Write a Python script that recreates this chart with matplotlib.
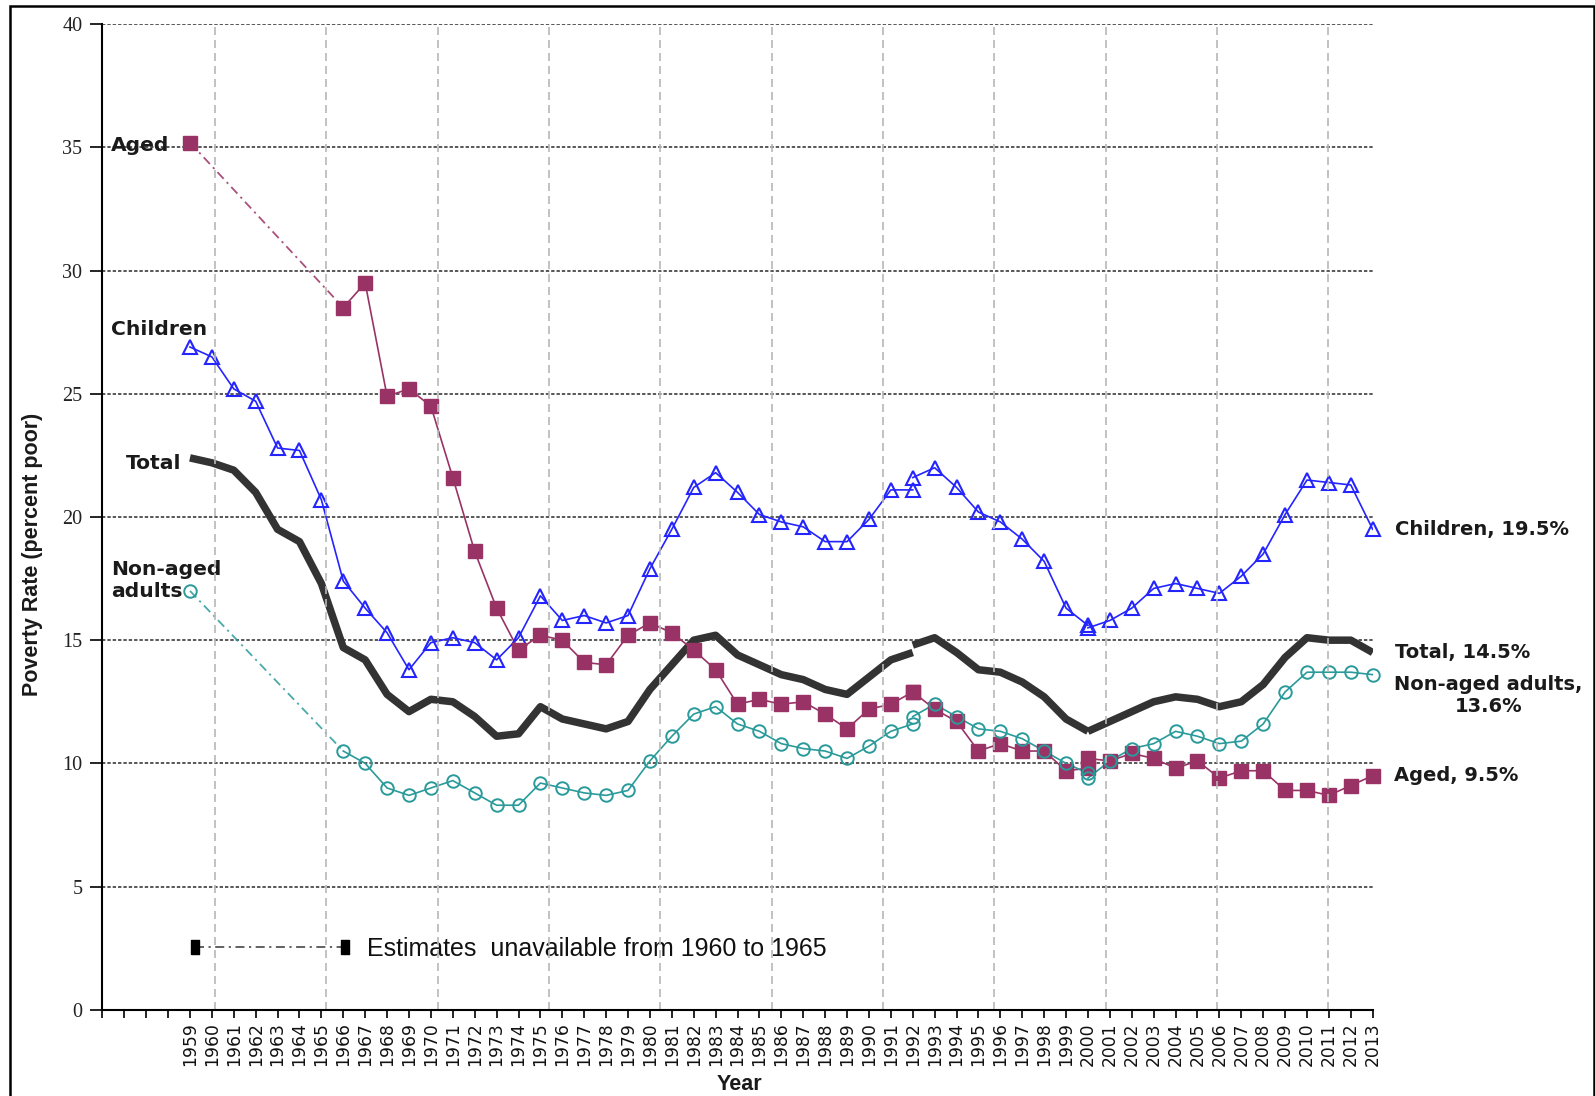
import numpy as np
import matplotlib
matplotlib.use("Agg")
import matplotlib.pyplot as plt
from matplotlib.patches import Rectangle
from matplotlib.lines import Line2D

# years: 1992 and 2000 appear twice (two estimates), series break there
years_full = list(range(1959, 1993)) + [1992] + list(range(1993, 2001)) + [2000] + list(range(2001, 2014))
years_gap = [1959] + list(range(1966, 1993)) + [1992] + list(range(1993, 2001)) + [2000] + list(range(2001, 2014))

children = [26.9, 26.5, 25.2, 24.7, 22.8, 22.7, 20.7, 17.4, 16.3, 15.3, 13.8, 14.9, 15.1, 14.9,
            14.2, 15.1, 16.8, 15.8, 16.0, 15.7, 16.0, 17.9, 19.5, 21.2, 21.8, 21.0, 20.1, 19.8,
            19.6, 19.0, 19.0, 19.9, 21.1, 21.1, 21.6, 22.0, 21.2, 20.2, 19.8, 19.1, 18.2, 16.3,
            15.6, 15.5, 15.8, 16.3, 17.1, 17.3, 17.1, 16.9, 17.6, 18.5, 20.1, 21.5, 21.4, 21.3, 19.5]
total = [22.4, 22.2, 21.9, 21.0, 19.5, 19.0, 17.3, 14.7, 14.2, 12.8, 12.1, 12.6, 12.5, 11.9,
         11.1, 11.2, 12.3, 11.8, 11.6, 11.4, 11.7, 13.0, 14.0, 15.0, 15.2, 14.4, 14.0, 13.6,
         13.4, 13.0, 12.8, 13.5, 14.2, 14.5, 14.8, 15.1, 14.5, 13.8, 13.7, 13.3, 12.7, 11.8,
         11.3, 11.3, 11.7, 12.1, 12.5, 12.7, 12.6, 12.3, 12.5, 13.2, 14.3, 15.1, 15.0, 15.0, 14.5]
aged = [35.2, 28.5, 29.5, 24.9, 25.2, 24.5, 21.6, 18.6, 16.3, 14.6, 15.2, 15.0, 14.1, 14.0,
        15.2, 15.7, 15.3, 14.6, 13.8, 12.4, 12.6, 12.4, 12.5, 12.0, 11.4, 12.2, 12.4, 12.9,
        12.9, 12.2, 11.7, 10.5, 10.8, 10.5, 10.5, 9.7, 9.8, 10.2, 10.1, 10.4, 10.2, 9.8,
        10.1, 9.4, 9.7, 9.7, 8.9, 8.9, 8.7, 9.1, 9.5]
nonaged = [17.0, 10.5, 10.0, 9.0, 8.7, 9.0, 9.3, 8.8, 8.3, 8.3, 9.2, 9.0, 8.8, 8.7,
           8.9, 10.1, 11.1, 12.0, 12.3, 11.6, 11.3, 10.8, 10.6, 10.5, 10.2, 10.7, 11.3, 11.6,
           11.9, 12.4, 11.9, 11.4, 11.3, 11.0, 10.5, 10.0, 9.6, 9.4, 10.1, 10.6, 10.8, 11.3,
           11.1, 10.8, 10.9, 11.6, 12.9, 13.7, 13.7, 13.7, 13.6]

BLUE = "#2424ff"
MAROON = "#993366"
TEAL = "#2a9a9a"
DARK = "#333333"
TXT = "#1a1a1a"
DASHDOT = (0, (5, 2.5, 1.2, 2.5))


def segments(xs, ys):
    # split where a year repeats (break in series)
    start = 0
    for i in range(1, len(xs)):
        if xs[i] <= xs[i - 1]:
            yield xs[start:i], ys[start:i]
            start = i
    yield xs[start:], ys[start:]


fig = plt.figure(figsize=(15.95, 10.96), dpi=100)
W, H = 1595.0, 1096.0
ax = fig.add_axes([101.7 / W, 1 - 1009.7 / H, (1372.7 - 101.7) / W, (1009.7 - 24.3) / H])
ax.set_xlim(1954.97, 2013)
ax.set_ylim(0, 40)

# grid
for v in range(5, 41, 5):
    ax.axhline(v, color="#2a2a2a", lw=1.1, ls=(0, (2.2, 1.3)), zorder=1)
for gx in np.linspace(1960.14, 2010.98, 11):
    ax.axvline(gx, color="#b8b8b8", lw=1.2, ls=(0, (4.8, 3)), zorder=6)

# total
for xs, ys in segments(years_full, total):
    ax.plot(xs, ys, color=DARK, lw=5.4, zorder=2, solid_capstyle="butt")

# children
for xs, ys in segments(years_full, children):
    ax.plot(xs, ys, color=BLUE, lw=1.2, zorder=3)
ax.plot(years_full, children, ls="none", marker="^", ms=9.5, mfc="none", mec=BLUE,
        mew=1.5, zorder=4, clip_on=False)

# aged and non-aged: 1959 joined to 1966 by a dash-dot line
for vals, col, mk, kw in [(aged, MAROON, "s", dict(mfc=MAROON, ms=9.5)),
                          (nonaged, TEAL, "o", dict(mfc="none", ms=9, mew=1.4))]:
    ax.plot(years_gap[:2], vals[:2], color=col, lw=1.3, ls=DASHDOT, zorder=3, alpha=0.85)
    for xs, ys in segments(years_gap[1:], vals[1:]):
        ax.plot(xs, ys, color=col, lw=1.2, zorder=3)
    ax.plot(years_gap, vals, ls="none", marker=mk, mec=col, zorder=4, clip_on=False, **kw)

# axes styling
for s in ["top", "right"]:
    ax.spines[s].set_visible(False)
for s in ["left", "bottom"]:
    ax.spines[s].set_linewidth(1.5)
    ax.spines[s].set_zorder(7)

ax.set_yticks(range(0, 41, 5))
ax.tick_params(axis="y", length=9, width=1.2, pad=5, labelsize=14.5, labelcolor="#222222")
for lbl in ax.get_yticklabels():
    lbl.set_family("Liberation Serif")

xt = list(range(1955, 2014))
ax.set_xticks(xt)
ax.set_xticklabels([str(y) if y >= 1959 else "" for y in xt], rotation=90, fontsize=12.3,
                   color="#111111")
ax.tick_params(axis="x", length=6, width=1.2, pad=3)

fig.text(32.3 / W, 1 - 554.5 / H, "Poverty Rate (percent poor)", rotation=90, ha="center",
         va="center", fontsize=15.5, fontweight="bold", family="Liberation Sans", color=TXT)
fig.text(739.5 / W, 1 - 1084 / H, "Year", ha="center", va="center", fontsize=15.5,
         fontweight="bold", family="Liberation Sans", color=TXT)

# series labels
lab = dict(fontweight="bold", family="DejaVu Sans", color=TXT, va="center", clip_on=False)
ax.text(1955.39, 35.08, "Aged", fontsize=14.6, ha="left", **lab)
ax.text(1955.39, 27.63, "Children", fontsize=14.6, ha="left", **lab)
ax.text(1956.08, 22.16, "Total", fontsize=14.6, ha="left", **lab)
ax.text(1955.39, 17.43, "Non-aged\nadults", fontsize=14.6, ha="left", multialignment="left", **lab)

ax.text(2014.02, children[-1], "Children, %.1f%%" % children[-1], fontsize=14, ha="left", **lab)
ax.text(2014.02, total[-1], "Total, %.1f%%" % total[-1], fontsize=14, ha="left", **lab)
ax.text(2018.29, 12.76, "Non-aged adults,\n%.1f%%" % nonaged[-1], fontsize=14, ha="center",
        multialignment="center", **lab)
ax.text(2013.95, aged[-1], "Aged, %.1f%%" % aged[-1], fontsize=14, ha="left", **lab)

# legend: estimates gap
rect = [(-0.55, -1), (0.55, -1), (0.55, 1), (-0.55, 1), (-0.55, -1)]
key = Line2D([], [], color="#555555", lw=1.3, ls=DASHDOT, marker=rect, ms=10,
             mfc="black", mec="black")
leg = ax.legend(handles=[key], labels=["Estimates  unavailable from 1960 to 1965"],
                numpoints=2, frameon=False, loc="center left",
                bbox_to_anchor=((187.3 - 101.7) / 1271.0, (1009.7 - 949) / 985.4),
                borderpad=0, borderaxespad=0, handlelength=6.6, handletextpad=0.6,
                prop={"family": "Liberation Sans", "size": 18})
for t in leg.get_texts():
    t.set_color("#111111")

# outer frame
fig.add_artist(Rectangle((10 / W, -0.05), (1593.5 - 10) / W, 1.05 - 5.8 / H,
                         transform=fig.transFigure, fill=False, lw=1.8, ec="black",
                         clip_on=False))

fig.savefig("out.png", dpi=100)
